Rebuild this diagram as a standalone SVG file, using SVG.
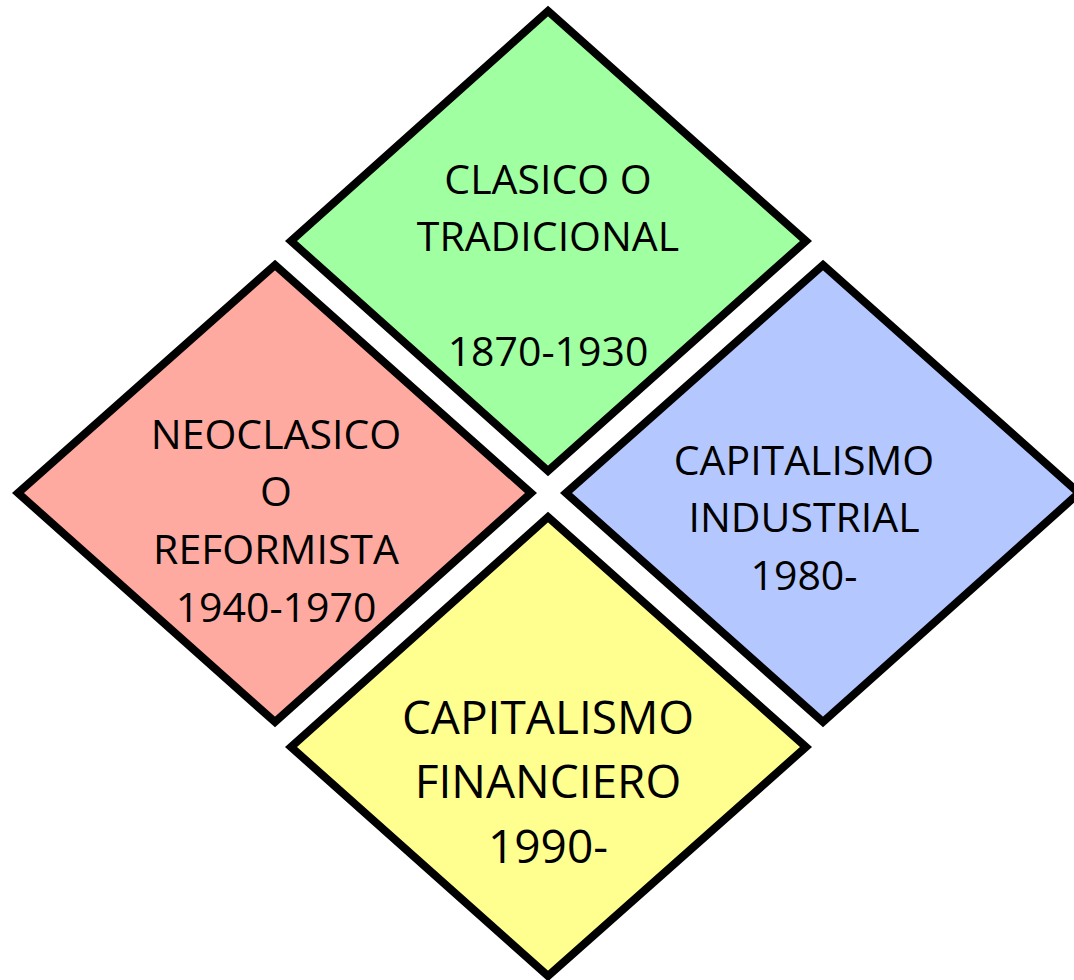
<svg xmlns="http://www.w3.org/2000/svg" width="1074" height="980" viewBox="0 0 1074 980">
<style>
.d{stroke:#000;stroke-width:8;stroke-linejoin:miter;stroke-miterlimit:10}
.t{font-family:"Open Sans","Noto Sans",sans-serif;font-size:41px;fill:#000;text-anchor:middle}
.b{font-size:46px}
</style>
<rect width="1074" height="980" fill="#fff"/>
<g id="connectors"></g>
<g id="clasico">
<polygon class="d" fill="#A0FFA0" points="548,11 806,241 548,471 291,241"/>
<text class="t" x="548" y="194">CLASICO O</text>
<text class="t" x="548" y="251">TRADICIONAL</text>
<text class="t" x="548" y="366">1870-1930</text>
</g>
<g id="neoclasico">
<polygon class="d" fill="#FFAAA0" points="275,265 531,493 275,722 18,493"/>
<text class="t" x="276" y="449">NEOCLASICO</text>
<text class="t" x="276" y="506">O</text>
<text class="t" x="276" y="564">REFORMISTA</text>
<text class="t" x="276" y="622">1940-1970</text>
</g>
<g id="industrial">
<polygon class="d" fill="#B4C8FF" points="823,265 1079,493 823,722 566,493"/>
<text class="t" x="804" y="475">CAPITALISMO</text>
<text class="t" x="804" y="532">INDUSTRIAL</text>
<text class="t" x="804" y="590">1980-</text>
</g>
<g id="financiero">
<polygon class="d" fill="#FFFF90" points="548,517 806,747 548,976 291,747"/>
<text class="t b" x="548" y="734">CAPITALISMO</text>
<text class="t b" x="548" y="798">FINANCIERO</text>
<text class="t b" x="548" y="863">1990-</text>
</g>
</svg>
